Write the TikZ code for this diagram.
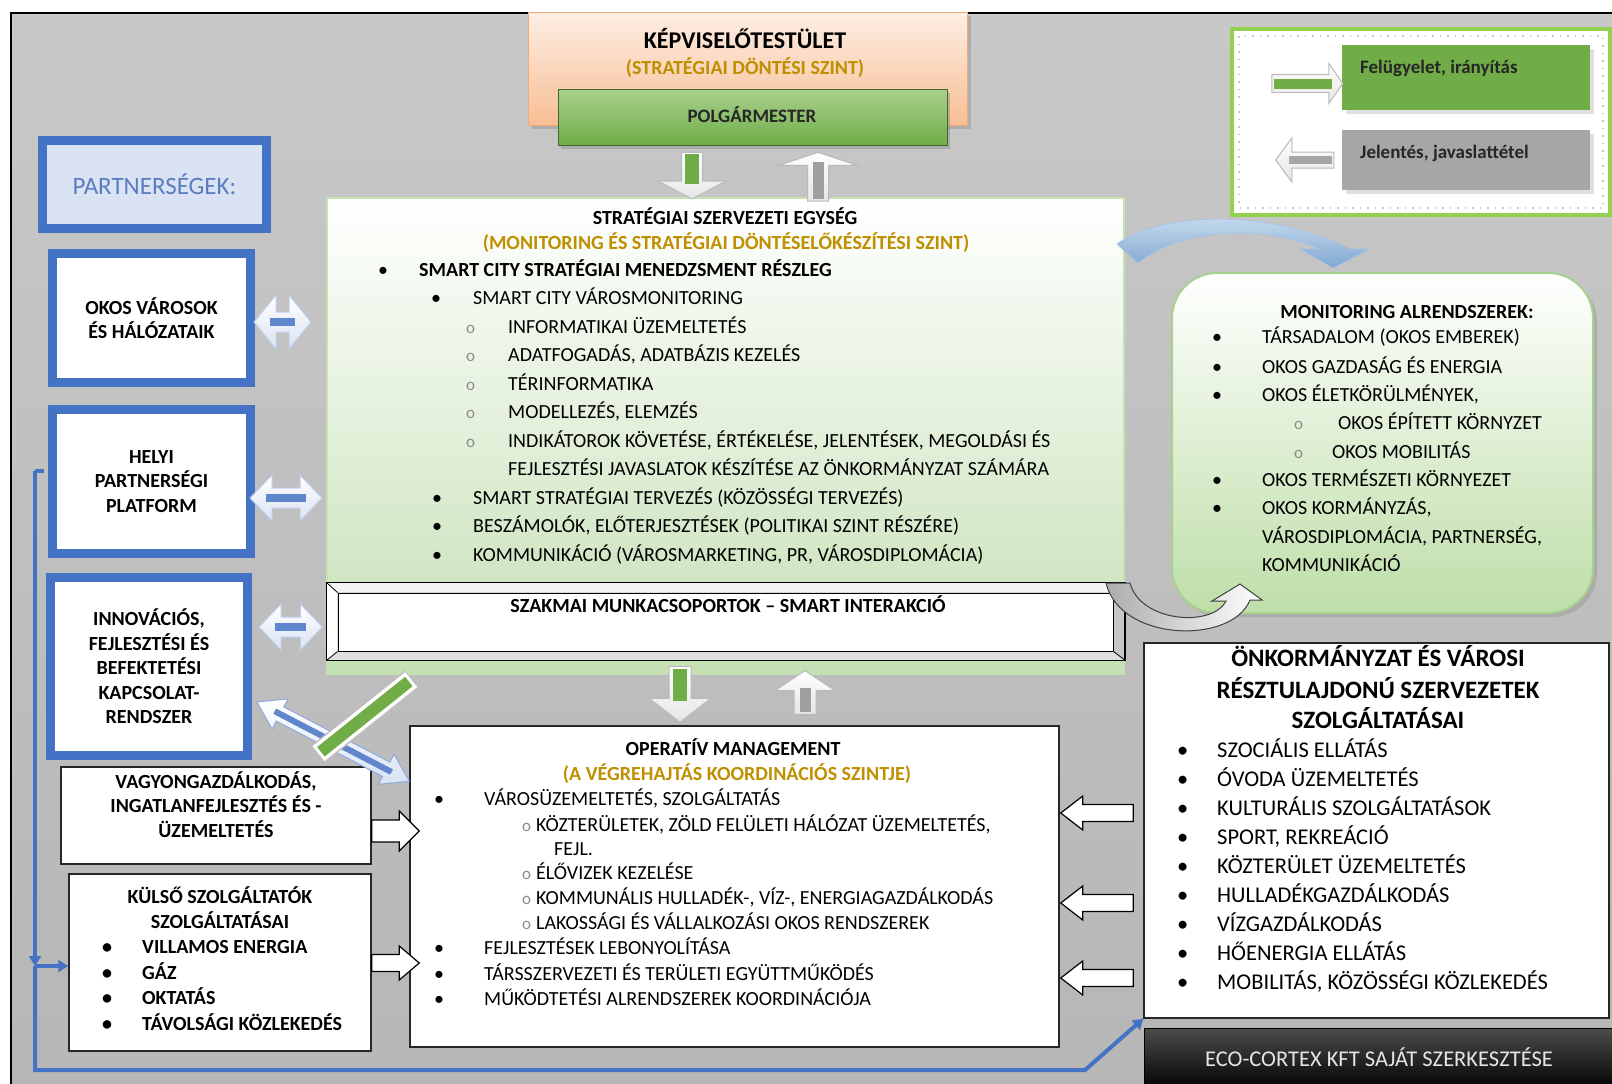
\documentclass[tikz,border=0pt]{standalone}
\usepackage{fontspec}
\setmainfont{Carlito}
\usetikzlibrary{calc,shadows,arrows.meta}

\definecolor{bgtop}{RGB}{200,200,200}
\definecolor{bgbot}{RGB}{182,182,182}
\definecolor{gold}{RGB}{191,143,0}
\definecolor{partblue}{RGB}{68,114,196}
\definecolor{partfill}{RGB}{218,227,243}
\definecolor{parttext}{RGB}{90,125,190}
\definecolor{stratbot}{RGB}{197,224,180}
\definecolor{monbot}{RGB}{190,222,168}
\definecolor{polgtop}{RGB}{169,209,142}
\definecolor{polgbot}{RGB}{112,173,71}
\definecolor{kepvtop}{RGB}{253,238,228}
\definecolor{kepvbot}{RGB}{247,190,148}
\definecolor{kepvline}{RGB}{240,170,120}
\definecolor{leggreen}{RGB}{112,173,71}
\definecolor{leggray}{RGB}{166,166,166}
\definecolor{legline}{RGB}{146,208,80}
\definecolor{curvetop}{RGB}{210,226,242}
\definecolor{curvebot}{RGB}{128,168,210}

% length and angle from #1 to #2
\newcommand\arrsetup[2]{%
  \path let \p1=(#1), \p2=(#2) in \pgfextra{%
    \pgfmathparse{veclen(\x2-\x1,\y2-\y1)}\xdef\arrlen{\pgfmathresult}%
    \pgfmathparse{atan2(\y2-\y1,\x2-\x1)}\xdef\arrang{\pgfmathresult}};}

% block arrow: style, from, to, head length, head half width, shaft half width, bar style
\newcommand\blockarrow[7]{%
  \arrsetup{#2}{#3}
  \begin{scope}[shift={(#2)},rotate=\arrang]
    \path[#1] (0pt,#6) -- ({\arrlen pt-#4},#6) -- ({\arrlen pt-#4},#5)
      -- ({\arrlen pt},0pt) -- ({\arrlen pt-#4},-#5) -- ({\arrlen pt-#4},-#6)
      -- (0pt,-#6) -- cycle;
    \path[#7] (2pt,0pt) -- ({\arrlen pt-#4+3pt},0pt);
  \end{scope}}

% double block arrow, same arguments
\newcommand\dblarrow[7]{%
  \arrsetup{#2}{#3}
  \begin{scope}[shift={(#2)},rotate=\arrang]
    \path[#1] (0pt,0pt) -- (#4,#5) -- (#4,#6) -- ({\arrlen pt-#4},#6)
      -- ({\arrlen pt-#4},#5) -- ({\arrlen pt},0pt) -- ({\arrlen pt-#4},-#5)
      -- ({\arrlen pt-#4},-#6) -- (#4,-#6) -- (#4,-#5) -- cycle;
    \path[#7] ({#4-6pt},0pt) -- ({\arrlen pt-#4+6pt},0pt);
  \end{scope}}

\begin{document}
\begin{tikzpicture}[x=1pt,y=-1pt,
  every node/.style={inner sep=0pt},
  t20/.style={anchor=base,yshift=-6.4pt,font=\fontsize{20}{24}\selectfont},
  t20b/.style={t20,font=\fontsize{20}{24}\selectfont\bfseries},
  l20/.style={t20,anchor=base west},
  l20b/.style={t20b,anchor=base west},
  subo/.style={anchor=base west,yshift=-6.4pt,font=\fontsize{17}{17}\selectfont,text=black!45},
  t22/.style={anchor=base,yshift=-7.2pt,font=\fontsize{22.5}{27}\selectfont},
  l22/.style={t22,anchor=base west},
  t24b/.style={anchor=base,yshift=-7.7pt,font=\fontsize{24}{28}\selectfont\bfseries},
  t25b/.style={anchor=base,yshift=-8pt,font=\fontsize{25}{30}\selectfont\bfseries},
  t19b/.style={anchor=base,yshift=-6.1pt,font=\fontsize{19}{23}\selectfont\bfseries},
  l19b/.style={t19b,anchor=base west},
  kepvbox/.style={draw=kepvline,line width=1pt,top color=kepvtop,bottom color=kepvbot,
    drop shadow={shadow xshift=4pt,shadow yshift=-4pt,opacity=.35}},
  polgbox/.style={draw=polgbot!60!black,line width=.8pt,top color=polgtop,bottom color=polgbot,
    drop shadow={shadow xshift=3pt,shadow yshift=-4pt,opacity=.4}},
  stratbox/.style={draw=stratbot,line width=2pt,top color=white,bottom color=stratbot},
  partbox/.style={draw=partblue,line width=8pt,fill=white,align=center,
    font=\fontsize{20}{24.5}\selectfont\bfseries},
  whitebox/.style={draw=black!85,line width=1.5pt,fill=white},
  monbox/.style={draw=polgtop,line width=2pt,rounded corners=45pt,top color=white,
    bottom color=monbot,drop shadow={shadow xshift=4pt,shadow yshift=-4pt,opacity=.3}},
  vblk/.style={draw=gray!55,line width=1pt,top color=white,bottom color=gray!20},
  pblk/.style={draw=partblue!35,line width=1pt,top color=white,bottom color=partfill},
  oblk/.style={draw=black,line width=1.2pt,fill=white},
  gbar/.style={draw=polgbot,line width=14pt},
  graybar/.style={draw=gray!75,line width=11pt},
  pbar/.style={draw=partblue!85,line width=8pt},
  dbar/.style={draw=partblue!85,line width=6pt},
  bline/.style={draw=partblue,line width=4pt},
  btip/.style={-{Triangle[width=12pt,length=10pt]}}]

  % frame
  \useasboundingbox (0,0) rectangle (1612,1084);
  \fill[white] (0,0) rectangle (1612,1084);
  \path[draw=black,line width=2.5pt,top color=bgtop,bottom color=bgbot] (11,13) rectangle (1640,1110);

  % boxes
  \node[kepvbox,minimum width=439pt,minimum height=113pt] (kepv) at (747.5,68.5) {};
  \node[polgbox,minimum width=389pt,minimum height=56pt] (polg) at (752.5,117) {};
  \node[stratbox,minimum width=797pt,minimum height=476pt] (strat) at (725.5,436) {};

  \node[draw=black,line width=1.2pt,fill=gray!45,minimum width=798pt,minimum height=77pt] (szak) at (726,621.5) {};
  \fill[gray!8] (szak.north west) -- (szak.north east) -- ($(szak.north east)+(-12,10)$) -- ($(szak.north west)+(11,10)$) -- cycle;
  \fill[white] (szak.north west) -- ($(szak.north west)+(11,10)$) -- ($(szak.south west)+(11,-9)$) -- (szak.south west) -- cycle;
  \fill[gray!25] (szak.south west) -- ($(szak.south west)+(11,-9)$) -- ($(szak.south east)+(-12,-9)$) -- (szak.south east) -- cycle;
  \node[draw=black,line width=1pt,fill=white,minimum width=775pt,minimum height=58pt] (szakin) at (725.5,622) {};
  \foreach \c in {north west,north east,south west,south east}
    \draw[line width=.8pt] (szak.\c) -- (szakin.\c);
  \draw[line width=1.2pt] (szak.north west) rectangle (szak.south east);

  \node[whitebox,minimum width=310pt,minimum height=97pt] (vagyon) at (216,815.5) {};
  \node[whitebox,minimum width=302pt,minimum height=177pt] (kulso) at (220,962.5) {};
  \node[whitebox,minimum width=649pt,minimum height=321pt] (oper) at (734.5,886.5) {};
  \node[whitebox,minimum width=465pt,minimum height=375pt] (onkorm) at (1376.5,830.5) {};
  \node[draw=black,top color=black!70,bottom color=black,minimum width=475pt,minimum height=62pt] (eco) at (1381.5,1059) {};
  \node[monbox,minimum width=421pt,minimum height=340pt] (monitor) at (1382.5,443) {};

  % partners
  \node[partbox,fill=partfill,text=parttext,font=\fontsize{25}{30}\selectfont,
    minimum width=225pt,minimum height=89pt] (partner) at (154.5,184.5) {PARTNERSÉGEK:};
  \node[partbox,minimum width=199pt,minimum height=130pt] (okos) at (151.5,318) {OKOS VÁROSOK\\ÉS HÁLÓZATAIK};
  \node[partbox,minimum width=199pt,minimum height=145pt] (helyi) at (151.5,481.5) {HELYI\\PARTNERSÉGI\\PLATFORM};
  \node[partbox,minimum width=198pt,minimum height=179pt] (innov) at (149,666.5)
    {INNOVÁCIÓS,\\FEJLESZTÉSI ÉS\\BEFEKTETÉSI\\KAPCSOLAT-\\RENDSZER};
  \foreach \n in {partner,okos,helyi,innov}
    \draw[partblue,line width=1.5pt] ($(\n.north west)+(8,8)$) rectangle ($(\n.south east)+(-8,-8)$);

  % blue connector
  \coordinate (bl-top) at (35,471);
  \coordinate (bl-mid) at (35,966);
  \coordinate (bl-bot) at (35,1070);
  \coordinate (bl-cor) at (1085,1070);
  \draw[bline] ($(bl-top -| helyi.west)+(-4,0)$) -- (bl-top);
  \draw[bline,btip] (bl-top) -- (bl-mid);
  \draw[bline,btip] (bl-mid) -- (kulso.west |- bl-mid);
  \draw[bline,btip] (bl-mid) -- (bl-bot) -- (bl-cor) -- (onkorm.south west);

  % legend
  \node[draw=legline,line width=4pt,fill=white,minimum width=378pt,minimum height=186pt] (legend) at (1421,122) {};
  \draw[gray!45,line width=1.5pt,dash pattern=on 1.5pt off 6pt] ($(legend.north west)+(9,9)$) rectangle ($(legend.south east)+(-9,-9)$);
  \node[fill=leggreen,minimum width=248pt,minimum height=65pt,
    drop shadow={shadow xshift=4pt,shadow yshift=-4pt,opacity=.25}] (lgreen) at (1466,77.5) {};
  \node[fill=leggray,minimum width=248pt,minimum height=60pt,
    drop shadow={shadow xshift=4pt,shadow yshift=-4pt,opacity=.25}] (lgray) at (1466,160) {};
  \node[l19b,text=black!85] (lgreen-t) at (1360,67) {Felügyelet, irányítás};
  \node[l19b,text=black!85] (lgray-t) at (1360,152) {Jelentés, javaslattétel};

  % arrows
  \blockarrow{vblk}{$(polg.south)+(-60.5,7)$}{$(strat.north)+(-33.5,2)$}{18pt}{34pt}{10.5pt}{gbar}
  \blockarrow{vblk}{$(strat.north)+(92.5,4)$}{$(polg.south)+(65.5,7)$}{13pt}{39.5pt}{10.5pt}{graybar}
  \blockarrow{vblk}{$(szak.south)+(-46,6)$}{$(oper.north)+(-54.5,-3)$}{24pt}{31pt}{11pt}{gbar}
  \blockarrow{vblk}{$(oper.north)+(70.5,-11)$}{$(szak.south)+(79,10)$}{20pt}{30pt}{11pt}{graybar}

  \dblarrow{pblk}{$(okos.east)+(-1,4)$}{$(okos.east -| strat.west)+(-15,4)$}{22pt}{27pt}{10pt}{pbar}
  \dblarrow{pblk}{$(helyi.east)+(-5,16.5)$}{$(helyi.east -| strat.west)+(-4,16.5)$}{22pt}{23pt}{10pt}{pbar}
  \dblarrow{pblk}{$(innov.east)+(7,-39.5)$}{$(innov.east -| szak.west)+(-4,-39.5)$}{22pt}{23pt}{10pt}{pbar}

  \blockarrow{oblk}{$(vagyon.east)+(0,15.5)$}{$(vagyon.east -| oper.west)+(10,15.5)$}{20pt}{20pt}{11pt}{}
  \blockarrow{oblk}{$(kulso.east)+(0,0.5)$}{$(kulso.east -| oper.west)+(10,0.5)$}{20pt}{17pt}{8.5pt}{}
  \foreach \dy in {-17.5,72.5,147.5}
    {\blockarrow{oblk}{$(onkorm.west)+(-10,\dy)$}{$(onkorm.west -| oper.east)+(1,\dy)$}{22pt}{17pt}{8.5pt}{}}

  \dblarrow{pblk,draw=partblue!60}{$(innov.south east)+(5,-58)$}{$(oper.north west)+(0,56)$}{26pt}{17pt}{8pt}{dbar}
  \draw[gray!50,line width=22pt] ($(vagyon.north east)+(-54,-12)$) -- ($(strat.south west)+(86,4)$);
  \draw[white,line width=19pt,shorten <=1pt,shorten >=1pt] ($(vagyon.north east)+(-54,-12)$) -- ($(strat.south west)+(86,4)$);
  \draw[polgbot,line width=12pt,shorten <=4pt,shorten >=4pt] ($(vagyon.north east)+(-54,-12)$) -- ($(strat.south west)+(86,4)$);

  \blockarrow{vblk}{$(lgreen.west)+(-70,6)$}{$(lgreen.west)+(1,6)$}{14pt}{20pt}{9pt}{draw=leggreen,line width=10pt}
  \blockarrow{vblk}{$(lgray.west)+(-8,0)$}{$(lgray.west)+(-66,0)$}{16pt}{22pt}{8pt}{draw=gray!70,line width=8pt}

  % curved arrows
  \path[draw=curvebot!70,line width=.6pt,top color=curvetop,bottom color=curvebot]
    (1117,244) .. controls (1160,212) and (1270,208) .. (1350,249) -- (1370,249) -- (1333,268)
    -- (1300,249) -- (1320,249) .. controls (1265,225) and (1180,228) .. (1138,263) -- cycle;
  \path[draw=black!75,line width=1pt,left color=gray!65,right color=white]
    (1106,583) .. controls (1120,642) and (1232,645) .. (1250,600) -- (1262,600) -- (1240,584)
    -- (1212,601) -- (1226,601) .. controls (1212,628) and (1140,622) .. (1130,583) -- cycle;

  % texts
  \node[t24b] (kepv-t) at (745,41) {KÉPVISELŐTESTÜLET};
  \node[t20b,text=gold] (kepv-s) at (745,68) {(STRATÉGIAI DÖNTÉSI SZINT)};
  \node[t19b,text=black!85] (polg-t) at (752,116) {POLGÁRMESTER};

  \node[t20b] (strat-t) at (725,218) {STRATÉGIAI SZERVEZETI EGYSÉG};
  \node[t20b,text=gold] (strat-s) at (726,243) {(MONITORING ÉS STRATÉGIAI DÖNTÉSELŐKÉSZÍTÉSI SZINT)};
  \node[l20] (sm-b0) at (378,270) {•};
  \node[l20b] (sm-0) at (419,270) {SMART CITY STRATÉGIAI MENEDZSMENT RÉSZLEG};
  \node[l20] (sm-b1) at (431,298.5) {•};
  \node[l20] (sm-1) at (473,298.5) {SMART CITY VÁROSMONITORING};
  \foreach \y/\t [count=\i] in {327/{INFORMATIKAI ÜZEMELTETÉS},355.5/{ADATFOGADÁS, ADATBÁZIS KEZELÉS},
      384/{TÉRINFORMATIKA},412.5/{MODELLEZÉS, ELEMZÉS},
      441/{INDIKÁTOROK KÖVETÉSE, ÉRTÉKELÉSE, JELENTÉSEK, MEGOLDÁSI ÉS}} {
    \node[subo] (smo-\i) at (466,\y) {o};
    \node[l20] (smi-\i) at (508,\y) {\t};
  }
  \node[l20] (smi-6) at (508,469.5) {FEJLESZTÉSI JAVASLATOK KÉSZÍTÉSE AZ ÖNKORMÁNYZAT SZÁMÁRA};
  \foreach \y/\t [count=\i] in {498/{SMART STRATÉGIAI TERVEZÉS (KÖZÖSSÉGI TERVEZÉS)},
      526.5/{BESZÁMOLÓK, ELŐTERJESZTÉSEK (POLITIKAI SZINT RÉSZÉRE)},
      555/{KOMMUNIKÁCIÓ (VÁROSMARKETING, PR, VÁROSDIPLOMÁCIA)}} {
    \node[l20] (smb-\i) at (432,\y) {•};
    \node[l20] (sml-\i) at (473,\y) {\t};
  }

  \node[t20b] (szak-t) at (728,606) {SZAKMAI MUNKACSOPORTOK – SMART INTERAKCIÓ};

  \node[t20b] (oper-t) at (733,749) {OPERATÍV MANAGEMENT};
  \node[t20b,text=gold] (oper-s) at (737,774) {(A VÉGREHAJTÁS KOORDINÁCIÓS SZINTJE)};
  \node[l20] (op-b0) at (434,799) {•};
  \node[l20] (op-0) at (484,799) {VÁROSÜZEMELTETÉS, SZOLGÁLTATÁS};
  \foreach \y/\t [count=\i] in {825/{KÖZTERÜLETEK, ZÖLD FELÜLETI HÁLÓZAT ÜZEMELTETÉS,},
      873/{ÉLŐVIZEK KEZELÉSE},898/{KOMMUNÁLIS HULLADÉK-, VÍZ-, ENERGIAGAZDÁLKODÁS},
      923/{LAKOSSÁGI ÉS VÁLLALKOZÁSI OKOS RENDSZEREK}} {
    \node[subo] (opo-\i) at (522,\y) {o};
    \node[l20] (opi-\i) at (536,\y) {\t};
  }
  \node[l20] (opi-5) at (554,849) {FEJL.};
  \foreach \y/\t [count=\i] in {948/{FEJLESZTÉSEK LEBONYOLÍTÁSA},
      974/{TÁRSSZERVEZETI ÉS TERÜLETI EGYÜTTMŰKÖDÉS},999/{MŰKÖDTETÉSI ALRENDSZEREK KOORDINÁCIÓJA}} {
    \node[l20] (opb-\i) at (434,\y) {•};
    \node[l20] (opl-\i) at (484,\y) {\t};
  }

  \node[t20b] (mon-t) at (1407,312) {MONITORING ALRENDSZEREK:};
  \foreach \y/\t [count=\i] in {337/{TÁRSADALOM (OKOS EMBEREK)},367/{OKOS GAZDASÁG ÉS ENERGIA},
      395/{OKOS ÉLETKÖRÜLMÉNYEK,},480/{OKOS TERMÉSZETI KÖRNYEZET},508/{OKOS KORMÁNYZÁS,}} {
    \node[l20] (monb-\i) at (1212,\y) {•};
    \node[l20] (mon-\i) at (1262,\y) {\t};
  }
  \node[subo] (mono-1) at (1294,423) {o};
  \node[l20] (moni-1) at (1338,423) {OKOS ÉPÍTETT KÖRNYZET};
  \node[subo] (mono-2) at (1294,452) {o};
  \node[l20] (moni-2) at (1332,452) {OKOS MOBILITÁS};
  \node[l20] (mon-6) at (1262,537) {VÁROSDIPLOMÁCIA, PARTNERSÉG,};
  \node[l20] (mon-7) at (1262,565) {KOMMUNIKÁCIÓ};

  \foreach \y/\t [count=\i] in {658/{ÖNKORMÁNYZAT ÉS VÁROSI},690/{RÉSZTULAJDONÚ SZERVEZETEK},720/{SZOLGÁLTATÁSAI}}
    \node[t25b] (onk-t\i) at (1378,\y) {\t};
  \foreach \t [count=\i from 0] in {SZOCIÁLIS ELLÁTÁS,ÓVODA ÜZEMELTETÉS,KULTURÁLIS SZOLGÁLTATÁSOK,
      {SPORT, REKREÁCIÓ},KÖZTERÜLET ÜZEMELTETÉS,HULLADÉKGAZDÁLKODÁS,VÍZGAZDÁLKODÁS,
      HŐENERGIA ELLÁTÁS,{MOBILITÁS, KÖZÖSSÉGI KÖZLEKEDÉS}} {
    \node[l22] (onkb-\i) at (1177,750+29*\i) {•};
    \node[l22] (onk-\i) at (1217,750+29*\i) {\t};
  }
  \node[t22,text=gray!20] (eco-t) at (1379,1059) {ECO-CORTEX KFT SAJÁT SZERKESZTÉSE};

  \foreach \y/\t [count=\i] in {782/{VAGYONGAZDÁLKODÁS,},806/{INGATLANFEJLESZTÉS ÉS -},831/{ÜZEMELTETÉS}}
    \node[t20b] (vag-\i) at (216,\y) {\t};
  \node[t20b] (kul-t1) at (220,897) {KÜLSŐ SZOLGÁLTATÓK};
  \node[t20b] (kul-t2) at (220,922) {SZOLGÁLTATÁSAI};
  \foreach \y/\t [count=\i] in {947/{VILLAMOS ENERGIA},973/{GÁZ},998/{OKTATÁS},1024/{TÁVOLSÁGI KÖZLEKEDÉS}} {
    \node[l20b] (kulb-\i) at (102,\y) {•};
    \node[l20b] (kul-\i) at (142,\y) {\t};
  }
\end{tikzpicture}
\end{document}
